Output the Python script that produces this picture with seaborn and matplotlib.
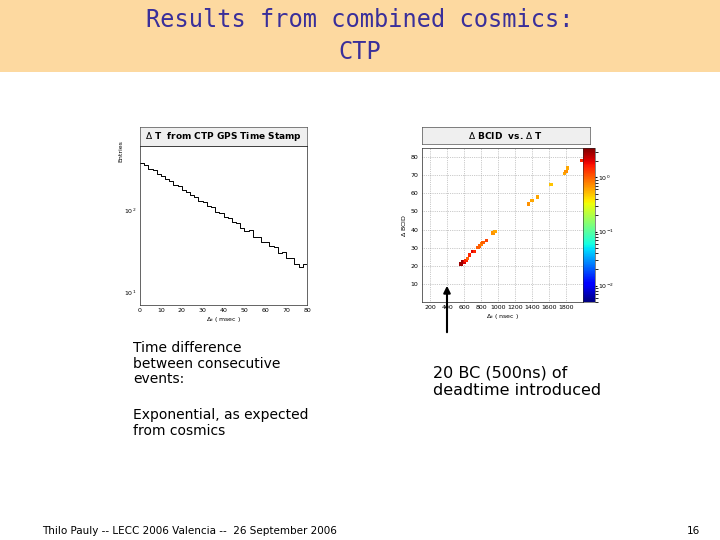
import numpy as np
import pandas as pd
import matplotlib
matplotlib.use("Agg")
import matplotlib.pyplot as plt
import matplotlib.colors as mcolors
import seaborn as sns

sns.set_style("white")
plt.rcParams['font.family'] = ['DejaVu Sans']
plt.rcParams['text.color'] = 'black'
plt.rcParams['axes.labelcolor'] = 'black'
plt.rcParams['xtick.color'] = 'black'
plt.rcParams['ytick.color'] = 'black'

# Left histogram: Delta T (msec) bin starts, entries
dt_bins = [0, 2, 4, 6, 8, 10, 12, 14, 16, 18, 20, 22, 24, 26, 28, 30, 32, 34, 36, 38,
           40, 42, 44, 46, 48, 50, 52, 54, 56, 58, 60, 62, 64, 66, 68, 70, 72, 74, 76, 78]
dt_entries = [370, 350, 318, 302, 275, 262, 236, 225, 203, 193, 175, 166, 150, 143, 128, 124, 110, 107, 95, 92,
              82, 80, 70, 69, 60, 55, 56, 47, 47, 41, 40, 36, 35, 30, 31, 26, 26, 22, 20, 22]

# Right scatter: Delta T (nsec) vs Delta BCID, content
bc_t = [560, 580, 600, 620, 640, 660, 700, 720, 760, 780, 800, 820, 860, 940, 960, 1360, 1400, 1460, 1620, 1780, 1800, 1820, 1980]
bc_id = [21, 22, 22, 23, 24, 26, 28, 28, 30, 31, 32, 33, 34, 38, 39, 54, 56, 58, 65, 71, 72, 74, 78]
bc_w = [3, 3, 2, 1.5, 1, 1.5, 2, 1.5, 1, 1, 0.8, 1, 1.2, 0.7, 0.6, 0.7, 0.6, 0.6, 0.5, 0.6, 0.7, 0.6, 1.5]

W, H = 720, 540
fig = plt.figure(figsize=(7.2, 5.4), dpi=100)
def rect(x0, y0, x1, y1):
    return [x0 / W, 1 - y1 / H, (x1 - x0) / W, (y1 - y0) / H]

jet = plt.get_cmap('jet')

# header band
band = fig.add_axes(rect(0, 0, 720, 72))
band.set_facecolor('#fdd9a0'); band.set_xticks([]); band.set_yticks([])
for s in band.spines.values(): s.set_visible(False)
fig.text(360 / W, 1 - 20 / H, "Results from combined cosmics:", ha='center', va='center',
         fontsize=17, color='#3a2f9a', family='DejaVu Sans Mono')
fig.text(360 / W, 1 - 52 / H, "CTP", ha='center', va='center',
         fontsize=17, color='#3a2f9a', family='DejaVu Sans Mono')

# left plot
axl = fig.add_axes(rect(140, 146, 307, 305))
df = pd.DataFrame({'t': [b + 1 for b in dt_bins], 'n': dt_entries})
sns.histplot(data=df, x='t', weights='n', bins=40, binrange=(0, 80), element='step', fill=False,
             color='black', linewidth=0.7, ax=axl)
axl.set_yscale('log')
axl.set_xlim(0, 80); axl.set_ylim(6.9, 600)
axl.set_xticks(range(0, 81, 10))
axl.set_xlabel(r'$\Delta_t$ ( msec )', fontsize=4.5, labelpad=1)
axl.set_ylabel('Entries', fontsize=4.5, labelpad=2)
axl.yaxis.set_label_coords(-0.1, 0.97)
axl.tick_params(labelsize=4.5, length=1.5, pad=1)
for s in axl.spines.values(): s.set_linewidth(0.5)
tl = fig.add_axes(rect(140, 127, 307, 146))
tl.set_facecolor('#efefef'); tl.set_xticks([]); tl.set_yticks([])
for s in tl.spines.values(): s.set_linewidth(0.4)
tl.text(0.5, 0.5, r'$\Delta$ T  from CTP GPS Time Stamp', ha='center', va='center', fontsize=6.5, fontweight='bold')

# right plot
axr = fig.add_axes(rect(422, 148, 583, 302))
cax = fig.add_axes(rect(583, 148, 595, 302))
norm = mcolors.LogNorm(vmin=0.005, vmax=3.5)
sdf = pd.DataFrame({'t': bc_t, 'b': bc_id, 'w': bc_w})
sns.scatterplot(data=sdf, x='t', y='b', hue='w', hue_norm=norm, palette=jet, marker='s',
                s=6, linewidth=0, legend=False, ax=axr)
axr.set_xlim(100, 2000); axr.set_ylim(0, 85)
axr.set_xticks(range(200, 1801, 200)); axr.set_yticks(range(10, 81, 10))
axr.grid(True, linestyle=':', linewidth=0.5, color='#999999')
axr.set_xlabel(r'$\Delta_t$ ( nsec )', fontsize=4.5, labelpad=1)
axr.set_ylabel(r'$\Delta$ BCID', fontsize=4.5, labelpad=2)
axr.tick_params(labelsize=4.5, length=1.5, pad=1)
for s in axr.spines.values(): s.set_linewidth(0.5)
cb = fig.colorbar(plt.cm.ScalarMappable(norm=norm, cmap=jet), cax=cax)
cb.set_ticks([0.01, 0.1, 1])
cb.ax.tick_params(labelsize=4.5, length=1.5, pad=1)
cb.outline.set_linewidth(0.4)
tr = fig.add_axes(rect(422, 127, 590, 144))
tr.set_facecolor('#efefef'); tr.set_xticks([]); tr.set_yticks([])
for s in tr.spines.values(): s.set_linewidth(0.4)
tr.text(0.5, 0.5, r'$\Delta$ BCID  vs. $\Delta$ T', ha='center', va='center', fontsize=6.5, fontweight='bold')

# arrow
fig.patches.append(matplotlib.patches.FancyArrowPatch(
    (447 / W, 1 - 335 / H), (447 / W, 1 - 283 / H), transform=fig.transFigure,
    arrowstyle='-|>', mutation_scale=10, linewidth=1.5, color='black'))

# texts
fig.text(133 / W, 1 - 341 / H, "Time difference\nbetween consecutive\nevents:", ha='left', va='top',
         fontsize=10, linespacing=1.15)
fig.text(133 / W, 1 - 408 / H, "Exponential, as expected\nfrom cosmics", ha='left', va='top',
         fontsize=10, linespacing=1.15)
fig.text(433 / W, 1 - 366 / H, "20 BC (500ns) of\ndeadtime introduced", ha='left', va='top',
         fontsize=11.5, linespacing=1.15)
fig.text(42 / W, 1 - 531 / H, "Thilo Pauly -- LECC 2006 Valencia --  26 September 2006", ha='left',
         va='center', fontsize=7.5)
fig.text(700 / W, 1 - 531 / H, "16", ha='right', va='center', fontsize=7.5)

fig.savefig('out.png', dpi=100)
